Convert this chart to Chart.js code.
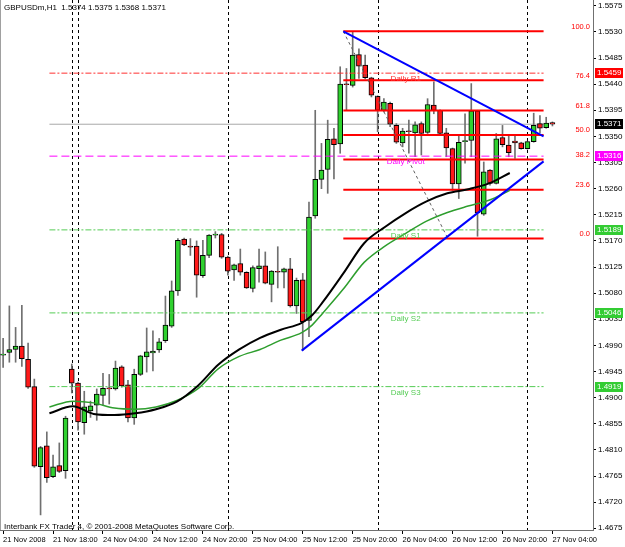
<!DOCTYPE html>
<html>
<head>
<meta charset="utf-8">
<script src="https://cdn.jsdelivr.net/npm/chart.js@4.4.0/dist/chart.umd.min.js"></script>
<style>
  html, body { margin: 0; padding: 0; background: #fff; }
  #wrap { width: 625px; height: 547px; position: relative; }
</style>
</head>
<body>
<div id="wrap"><canvas id="priceChart"></canvas></div>
<script>
// GBPUSDm H1 bars, 21 Nov 10:00 .. 27 Nov 04:00 (weekend gap after Fri 20:00)
const days = [
  ['21 Nov', 10, 20],
  ['23 Nov', 23, 23],
  ['24 Nov', 0, 23],
  ['25 Nov', 0, 23],
  ['26 Nov', 0, 23],
  ['27 Nov', 0, 4]
];

const opens = [
  1.4973, 1.4978, 1.4983, 1.4989, 1.4966, 1.4919, 1.4781, 1.4817, 1.4764, 1.4783,
  1.4774, 1.4949, 1.4925, 1.4857, 1.4877, 1.4887, 1.4904, 1.4916, 1.4915, 1.4953,
  1.4922, 1.4865, 1.4940, 1.4970, 1.4977, 1.4982, 1.4998, 1.5023, 1.5084, 1.5173,
  1.5161, 1.5161, 1.5110, 1.5145, 1.5180, 1.5181, 1.5142, 1.5120, 1.5131, 1.5116,
  1.5088, 1.5122, 1.5127, 1.5095, 1.5117, 1.5116, 1.5122, 1.5058, 1.5103, 1.5033,
  1.5213, 1.5276, 1.5293, 1.5346, 1.5337, 1.5440, 1.5438, 1.5491, 1.5473, 1.5451,
  1.5419, 1.5395, 1.5407, 1.5369, 1.5339, 1.5359, 1.5356, 1.5372, 1.5357, 1.5404,
  1.5395, 1.5356, 1.5329, 1.5268, 1.5341, 1.5343, 1.5394, 1.5216, 1.5292, 1.5269,
  1.5348, 1.5335, 1.5342, 1.5339, 1.5329, 1.5341, 1.5372, 1.5365, 1.5374
];
const highs = [
  1.5002, 1.5058, 1.5021, 1.5059, 1.4994, 1.4932, 1.4816, 1.4841, 1.4801, 1.4822,
  1.4868, 1.4958, 1.4927, 1.4911, 1.4894, 1.4915, 1.4942, 1.4940, 1.4963, 1.4955,
  1.4930, 1.4949, 1.4973, 1.5020, 1.5015, 1.5002, 1.5075, 1.5101, 1.5174, 1.5175,
  1.5174, 1.5170, 1.5171, 1.5181, 1.5186, 1.5183, 1.5144, 1.5130, 1.5156, 1.5117,
  1.5127, 1.5156, 1.5151, 1.5119, 1.5160, 1.5123, 1.5140, 1.5106, 1.5114, 1.5237,
  1.5395, 1.5338, 1.5378, 1.5364, 1.5470, 1.5467, 1.5531, 1.5501, 1.5490, 1.5452,
  1.5420, 1.5415, 1.5409, 1.5372, 1.5364, 1.5378, 1.5375, 1.5375, 1.5415, 1.5444,
  1.5396, 1.5364, 1.5330, 1.5352, 1.5389, 1.5441, 1.5395, 1.5306, 1.5293, 1.5355,
  1.5369, 1.5352, 1.5350, 1.5340, 1.5342, 1.5390, 1.5386, 1.5383, 1.5375
];
const lows = [
  1.4952, 1.4961, 1.4961, 1.4954, 1.4916, 1.4780, 1.4698, 1.4754, 1.4762, 1.4771,
  1.4761, 1.4908, 1.4844, 1.4837, 1.4866, 1.4861, 1.4887, 1.4889, 1.4913, 1.4918,
  1.4858, 1.4854, 1.4938, 1.4944, 1.4946, 1.4978, 1.4995, 1.5021, 1.5076, 1.5162,
  1.5145, 1.5073, 1.5107, 1.5141, 1.5175, 1.5140, 1.5111, 1.5102, 1.5111, 1.5088,
  1.5082, 1.5099, 1.5096, 1.5065, 1.5089, 1.5089, 1.5056, 1.5045, 1.4981, 1.5005,
  1.5209, 1.5260, 1.5252, 1.5277, 1.5321, 1.5395, 1.5435, 1.5450, 1.5449, 1.5418,
  1.5358, 1.5392, 1.5367, 1.5338, 1.5332, 1.5321, 1.5315, 1.5318, 1.5355, 1.5389,
  1.5352, 1.5315, 1.5257, 1.5243, 1.5304, 1.5315, 1.5178, 1.5214, 1.5266, 1.5268,
  1.5332, 1.5315, 1.5312, 1.5328, 1.5328, 1.5340, 1.5356, 1.5364, 1.5368
];
const closes = [
  1.4975, 1.4983, 1.4989, 1.4967, 1.4918, 1.4782, 1.4814, 1.4762, 1.4781, 1.4773,
  1.4865, 1.4925, 1.4858, 1.4884, 1.4886, 1.4906, 1.4916, 1.4915, 1.4951, 1.4920,
  1.4865, 1.4940, 1.4972, 1.4979, 1.4980, 1.4996, 1.5025, 1.5084, 1.5171, 1.5163,
  1.5159, 1.5111, 1.5145, 1.5180, 1.5181, 1.5142, 1.5118, 1.5129, 1.5116, 1.5089,
  1.5124, 1.5127, 1.5097, 1.5118, 1.5116, 1.5122, 1.5058, 1.5102, 1.5031, 1.5211,
  1.5276, 1.5292, 1.5345, 1.5336, 1.5440, 1.5439, 1.5490, 1.5471, 1.5451, 1.5421,
  1.5395, 1.5409, 1.5371, 1.5340, 1.5359, 1.5358, 1.5370, 1.5355, 1.5405, 1.5395,
  1.5355, 1.5330, 1.5268, 1.5340, 1.5342, 1.5394, 1.5218, 1.5289, 1.5269, 1.5346,
  1.5336, 1.5322, 1.5339, 1.5329, 1.5341, 1.5369, 1.5364, 1.5373, 1.5371
];

// moving averages, read every 4 bars
const maIdx   = [-0.5, 4, 8, 12, 16, 20, 24, 28, 32, 36, 40, 44, 48, 50, 52, 56, 60, 64, 68, 72, 76, 80, 84, 88];
const maBlack = [1.4873, 1.4885, 1.4872, 1.4870, 1.4873, 1.4880, 1.4893, 1.4920, 1.4957, 1.4983, 1.5003, 1.5017,
                 1.5029, 1.5042, 1.5064, 1.5114, 1.5166, 1.5194, 1.5218, 1.5238, 1.5252, 1.5259, 1.5269, 1.5287];
const maGreen = [1.4884, 1.4894, 1.4891, 1.4882, 1.4880, 1.4884, 1.4895, 1.4915, 1.4950, 1.4971, 1.4983, 1.4999,
                 1.5012, 1.5025, 1.5045, 1.5087, 1.5133, 1.5161, 1.5183, 1.5204, 1.5219, 1.5230, 1.5240, 1.5257];

// trend lines: [bar index, price]
const trendUpper = [[56, 1.5531], [94.5, 1.5350]];
const trendLower = [[48, 1.4981], [94.5, 1.5307]];
const fibDiag = [[56, 1.5531], [76, 1.5176]];

const fibHigh = 1.5531;
const fibLow = 1.5174;
const fibStart = 56;
const fibLevels = [100, 76.4, 61.8, 50, 38.2, 23.6, 0];

const pivotNames  = ['Daily R1', 'Daily Pivot', 'Daily S1', 'Daily S2', 'Daily S3'];
const pivotValues = [1.5459, 1.5316, 1.5189, 1.5046, 1.4919];
const pivotColors = ['#ff3030', '#ff00ff', '#55cc55', '#55cc55', '#55cc55'];
const lastPrice = 1.5371;

const separatorIdx = [11, 12, 36, 60, 84];

const yTicks = [1.5575, 1.5530, 1.5485, 1.5440, 1.5395, 1.5350, 1.5305, 1.5260, 1.5215, 1.5170, 1.5125,
                1.5080, 1.5035, 1.4990, 1.4945, 1.4900, 1.4855, 1.4810, 1.4765, 1.4720, 1.4675];
const xTickLabels = ['21 Nov 2008', '21 Nov 18:00', '24 Nov 04:00', '24 Nov 12:00', '24 Nov 20:00', '25 Nov 04:00',
                     '25 Nov 12:00', '25 Nov 20:00', '26 Nov 04:00', '26 Nov 12:00', '26 Nov 20:00', '27 Nov 04:00'];

const slots = 95;
const categories = [];
days.forEach(([day, from, to]) => {
  for (let h = from; h <= to; h++) categories.push(day + ' ' + String(h).padStart(2, '0') + ':00');
});
const nBars = categories.length;
while (categories.length < slots) categories.push('');

const bull = '#2fd12f', bear = '#ff1a1a';
const font = 'Liberation Sans';

function seg(points) {
  return points.map(p => ({ x: p[0], y: p[1] }));
}
function hLine(from, value) {
  return [{ x: from, y: value }, { x: 94.5, y: value }];
}

const datasets = [];
datasets.push({
  label: 'wicks', data: lows.map((l, i) => [l, highs[i]]),
  backgroundColor: '#707070', barThickness: 1, grouped: false, order: 20
});
datasets.push({
  label: 'bodies', data: opens.map((o, i) => [o, closes[i]]),
  backgroundColor: opens.map((o, i) => closes[i] >= o ? bull : bear),
  borderColor: '#000', borderWidth: 1, borderSkipped: false,
  barThickness: 5, minBarLength: 1, grouped: false, order: 19
});
datasets.push({
  type: 'line', label: 'price', xAxisID: 'xl', data: hLine(-0.5, lastPrice),
  borderColor: '#a8a8a8', borderWidth: 1, pointRadius: 0, order: 25
});
pivotValues.forEach((v, i) => {
  datasets.push({
    type: 'line', label: pivotNames[i], xAxisID: 'xl', data: hLine(-0.5, v),
    borderColor: pivotColors[i], borderWidth: 1, pointRadius: 0,
    borderDash: i === 1 ? [8, 4] : [6, 2, 2, 2], order: 18
  });
});
fibLevels.forEach(lv => {
  datasets.push({
    type: 'line', label: 'fib ' + lv, xAxisID: 'xl',
    data: hLine(fibStart, fibLow + (fibHigh - fibLow) * lv / 100),
    borderColor: '#ff0000', borderWidth: 2, pointRadius: 0, order: 5
  });
});
datasets.push({
  type: 'line', label: 'fib trend', xAxisID: 'xl', data: seg(fibDiag),
  borderColor: '#606060', borderWidth: 1, borderDash: [3, 3], pointRadius: 0, order: 4
});
datasets.push({
  type: 'line', label: 'MA black', xAxisID: 'xl', data: maIdx.map((x, i) => ({ x: x, y: maBlack[i] })),
  borderColor: '#000', borderWidth: 2, pointRadius: 0, cubicInterpolationMode: 'monotone', order: 3
});
datasets.push({
  type: 'line', label: 'MA green', xAxisID: 'xl', data: maIdx.map((x, i) => ({ x: x, y: maGreen[i] })),
  borderColor: '#2e9e2e', borderWidth: 1.5, pointRadius: 0, cubicInterpolationMode: 'monotone', order: 3
});
[trendUpper, trendLower].forEach((t, i) => {
  datasets.push({
    type: 'line', label: 'trend ' + i, xAxisID: 'xl', data: seg(t),
    borderColor: '#0000ff', borderWidth: 2, pointRadius: 0, order: 2
  });
});

const overlay = {
  id: 'overlay',
  beforeDatasetsDraw(chart) {
    const { ctx, chartArea: a, scales: { x } } = chart;
    ctx.save();
    ctx.strokeStyle = '#000';
    ctx.lineWidth = 1;
    ctx.setLineDash([3, 3]);
    separatorIdx.forEach(i => {
      const px = Math.round(x.getPixelForValue(i)) + 0.5;
      ctx.beginPath();
      ctx.moveTo(px, a.top);
      ctx.lineTo(px, a.bottom);
      ctx.stroke();
    });
    ctx.setLineDash([]);
    ctx.strokeStyle = '#a0a0a0';
    ctx.beginPath();
    ctx.moveTo(0.5, a.top);
    ctx.lineTo(0.5, a.bottom);
    ctx.stroke();
    ctx.restore();
  },
  afterDraw(chart) {
    const { ctx, chartArea: a, scales: { y, xl } } = chart;
    ctx.save();
    ctx.font = '7.5px "' + font + '"';

    // fibo level captions
    ctx.fillStyle = '#ff0000';
    ctx.textAlign = 'right';
    ctx.textBaseline = 'bottom';
    fibLevels.forEach(lv => {
      const py = y.getPixelForValue(fibLow + (fibHigh - fibLow) * lv / 100);
      ctx.fillText(lv.toFixed(1), a.right - 3, py - 1);
    });

    // pivot captions
    ctx.font = '8px "' + font + '"';
    ctx.textAlign = 'center';
    ctx.textBaseline = 'top';
    pivotValues.forEach((v, i) => {
      ctx.fillStyle = pivotColors[i];
      ctx.fillText(pivotNames[i], xl.getPixelForValue(68), y.getPixelForValue(v) + 2);
    });

    // header / footer
    ctx.fillStyle = '#000';
    ctx.textAlign = 'left';
    ctx.textBaseline = 'middle';
    ctx.fillText('GBPUSDm,H1  ' + [opens[nBars - 1], highs[nBars - 1], lows[nBars - 1], closes[nBars - 1]].map(v => v.toFixed(4)).join(' '), 4, 8);
    ctx.fillText('Interbank FX Trader 4, \u00a9 2001-2008 MetaQuotes Software Corp.', 4, a.bottom - 3);

    // price tags on the right axis
    const tags = [
      [pivotValues[0], '#ff0000'], [lastPrice, '#000000'], [pivotValues[1], '#ff00ff'],
      [pivotValues[2], '#33cc33'], [pivotValues[3], '#33cc33'], [pivotValues[4], '#33cc33']
    ];
    tags.forEach(([v, c]) => {
      const py = y.getPixelForValue(v);
      ctx.fillStyle = c;
      ctx.fillRect(a.right + 2, Math.round(py) - 5, 28, 10);
      ctx.fillStyle = '#fff';
      ctx.fillText(v.toFixed(4), a.right + 4, Math.round(py));
    });
    ctx.restore();
  }
};

new Chart(document.getElementById('priceChart').getContext('2d'), {
  type: 'bar',
  data: { labels: categories, datasets: datasets },
  options: {
    responsive: true,
    maintainAspectRatio: false,
    animation: false,
    events: [],
    layout: { padding: 0 },
    plugins: { legend: { display: false }, tooltip: { enabled: false } },
    scales: {
      x: {
        type: 'category',
        offset: true,
        grid: { drawOnChartArea: false, offset: false, tickLength: 4, color: '#000' },
        border: { color: '#707070' },
        ticks: {
          autoSkip: false, maxRotation: 0, minRotation: 0, align: 'start', padding: 1,
          color: '#000', font: { family: font, size: 7.5 },
          callback: v => xTickLabels[v / 8]
        },
        afterBuildTicks: s => { s.ticks = s.ticks.filter(t => t.value % 8 === 0 && t.value < nBars); },
        afterFit: s => { s.height = 17; s.paddingLeft = 0; s.paddingRight = 0; }
      },
      xl: { type: 'linear', min: -0.5, max: 94.5, display: false },
      y: {
        position: 'right',
        min: 1.4672,
        max: 1.5585,
        grid: { drawOnChartArea: false, tickLength: 3, color: '#000' },
        border: { color: '#707070' },
        ticks: { padding: 2, color: '#000', font: { family: font, size: 8 }, callback: v => v.toFixed(4) },
        afterBuildTicks: s => { s.ticks = yTicks.map(v => ({ value: v })); },
        afterFit: s => { s.width = 32; s.paddingTop = 0; s.paddingBottom = 0; }
      }
    }
  },
  plugins: [overlay]
});
</script>
</body>
</html>
